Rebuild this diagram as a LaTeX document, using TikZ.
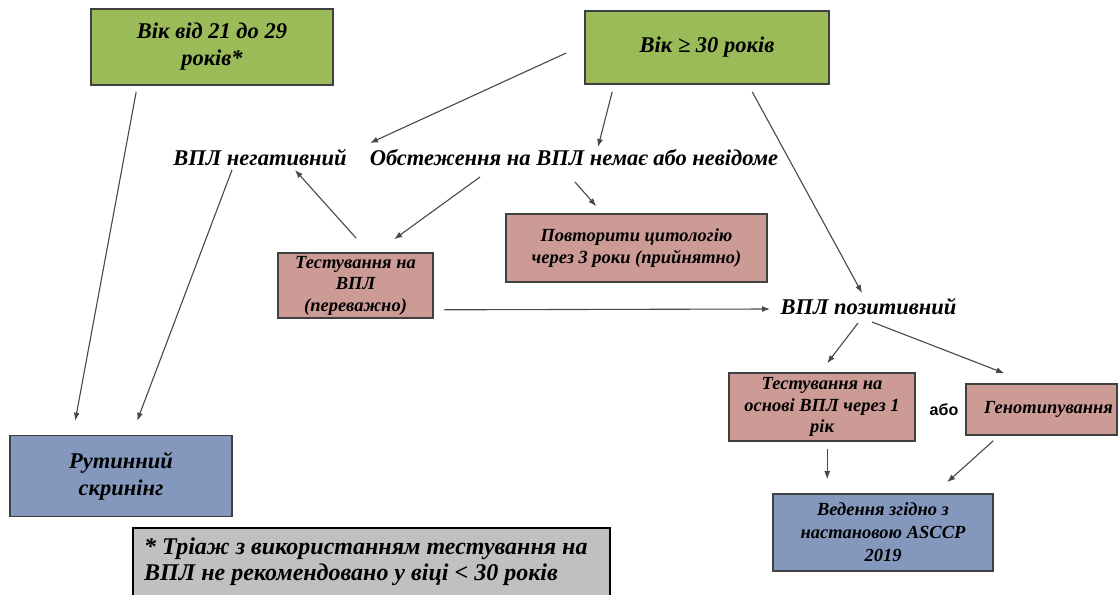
\documentclass[tikz,border=0pt]{standalone}
\usepackage{fontspec}
\setmainfont{Liberation Serif}
\newfontfamily\labelsans{Liberation Sans}
\usetikzlibrary{arrows.meta}

\definecolor{boxgreen}{RGB}{155,187,89}
\definecolor{boxpink}{RGB}{205,155,150}
\definecolor{boxblue}{RGB}{132,152,190}
\definecolor{boxgray}{RGB}{192,192,192}
\definecolor{edgegray}{RGB}{64,64,64}
\definecolor{linkgray}{RGB}{72,72,72}

\tikzset{
  bigtext/.style={font=\fontsize{22.5}{27}\selectfont\bfseries\itshape},
  smalltext/.style={font=\fontsize{18.5}{21.5}\selectfont\bfseries\itshape},
  box/.style={draw=edgegray, line width=1.6pt, inner sep=0pt, align=center},
  greenbox/.style={box, fill=boxgreen, bigtext},
  pinkbox/.style={box, fill=boxpink, smalltext},
  bluebox/.style={box, fill=boxblue},
  plain/.style={inner sep=0pt, bigtext},
  link/.style={draw=linkgray, line width=1.1pt, -{Latex[length=8pt,width=6pt]}}
}

\begin{document}
\begin{tikzpicture}[x=1pt, y=-1pt]
  \clip (0,0) rectangle (1118,594);
  \fill[white] (0,0) rectangle (1118,594);

  % age groups
  \node[greenbox, minimum width=242pt, minimum height=76pt] (g1) at (212,47)
    {Вік від 21 до 29\\років*};
  \node[greenbox, minimum width=244pt, minimum height=73pt] (g2) at (707,47.5)
    {Вік ≥ 30 років};

  % HPV status labels
  \node[plain] (neg) at (260,158) {ВПЛ негативний};
  \node[plain] (unk) at (574,158) {Обстеження на ВПЛ немає або невідоме};
  \node[plain] (pos) at (868.5,307) {ВПЛ позитивний};

  % management steps
  \node[pinkbox, minimum width=155pt, minimum height=65pt] (test) at (355.5,285.5)
    {Тестування на\\ВПЛ\\(переважно)};
  \node[pinkbox, minimum width=261pt, minimum height=68pt] (rep) at (636.5,248)
    {Повторити цитологію\\через 3 роки (прийнятно)};
  \node[pinkbox, minimum width=186pt, minimum height=68pt] (hpv1) at (822,407)
    {Тестування на\\основі ВПЛ через 1\\рік};
  \node[pinkbox, minimum width=151pt, minimum height=51pt] (geno) at (1041.5,409.5)
    {\hspace*{14pt}Генотипування};
  \node[inner sep=0pt, font=\labelsans\fontsize{16}{18}\selectfont\bfseries] (or) at (944,410) {або};

  % outcomes
  \node[bluebox, bigtext, minimum width=222pt, minimum height=81pt] (rut) at (121,476)
    {Рутинний\\скринінг};
  \node[bluebox, font=\fontsize{18.5}{23}\selectfont\bfseries\itshape,
        minimum width=220pt, minimum height=77pt] (ved) at (883,532.5)
    {Ведення згідно з\\настановою ASCCP\\2019};

  % footnote
  \draw[draw=black, line width=1.4pt, fill=boxgray] (133,528) rectangle (610,604);
  \node[inner sep=0pt, anchor=west, align=left,
        font=\fontsize{24}{25.5}\selectfont\bfseries\itshape] (note) at (144,562)
    {* Тріаж з використанням тестування на\\ВПЛ не рекомендовано у віці < 30 років};

  % connectors
  \draw[link] ([shift={(46,6)}]g1.south west) -- ([shift={(66,-14)}]rut.north west);
  \draw[link] ([shift={(-28,12)}]neg.center) -- ([shift={(128,-14)}]rut.north west);
  \draw[link] ([shift={(-18,5.5)}]g2.west) -- ([shift={(-204,-15)}]unk.center);
  \draw[link] ([shift={(28,7)}]g2.south west) -- ([shift={(24,-11)}]unk.center);
  \draw[link] ([shift={(168,7)}]g2.south west) -- ([shift={(-6.5,-14)}]pos.center);
  \draw[link] ([shift={(-94,19)}]unk.center) -- ([shift={(117,-13)}]test.north west);
  \draw[link] ([shift={(1,24)}]unk.center) -- ([shift={(91,-7)}]rep.north west);
  \draw[link] ([shift={(79,-14)}]test.north west) -- ([shift={(35,12)}]neg.center);
  \draw[link] ([shift={(10,-9)}]test.south east) -- ([shift={(-98.5,2)}]pos.center);
  \draw[link] ([shift={(-10.5,16)}]pos.center) -- ([shift={(99,-9)}]hpv1.north west);
  \draw[link] ([shift={(3.5,15)}]pos.center) -- ([shift={(39,-10)}]geno.north west);
  \draw[link] ([shift={(99,7)}]hpv1.south west) -- ([shift={(55,-14)}]ved.north west);
  \draw[link] ([shift={(28,5)}]geno.south west) -- ([shift={(175,-11)}]ved.north west);
\end{tikzpicture}
\end{document}
